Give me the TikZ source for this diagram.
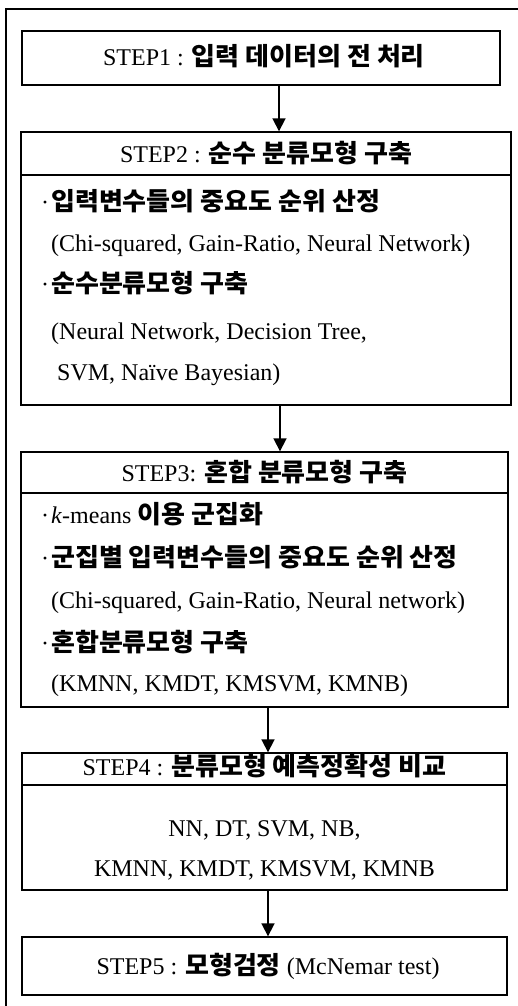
\documentclass[tikz,border=0pt]{standalone}
\usepackage{fontspec}
\setmainfont{Liberation Serif}
\newfontfamily\krfont{Noto Sans CJK KR}[FakeStretch=1.04]
\usetikzlibrary{arrows.meta}
\newcommand{\K}[1]{{\krfont\bfseries\fontsize{25}{30}\selectfont #1}}
\newcommand{\bul}{\makebox[10pt][l]{·}}
\tikzset{
  box/.style={draw=black, line width=1.4pt, inner sep=0pt, fill=white},
  hdr/.style={inner sep=0pt, anchor=base, font=\fontsize{24}{28}\selectfont},
  txt/.style={inner sep=0pt, anchor=base west, font=\fontsize{24}{28}\selectfont},
  sep/.style={draw=black, line width=1.2pt},
  arr/.style={draw=black, line width=1.8pt, -{Triangle[width=13pt,length=13pt]}},
  frame/.style={draw=black, line width=1.8pt}
}
\begin{document}
\begin{tikzpicture}[x=1pt,y=-1pt]
\useasboundingbox (0,0) rectangle (518,1006);
% outer frame
\coordinate (fTR) at (518,9);
\coordinate (fTL) at (6,9);
\coordinate (fBL) at (6,1006);
\draw[frame] (fTR) -- (fTL) -- (fBL);

% STEP1
\node[box, minimum width=478pt, minimum height=54pt] (s1) at (261,58) {};
\node[hdr] (h1) at (264,66) {STEP1 : \K{입력 데이터의 전 처리}};

% STEP2
\node[box, minimum width=490pt, minimum height=273pt] (s2) at (266,268.5) {};
\coordinate (l2) at (0,175);
\draw[sep] (s2.west |- l2) -- (s2.east |- l2);
\node[hdr] (h2) at (266,162) {STEP2 : \K{순수 분류모형 구축}};
\node[txt] (t21) at (41,210) {\bul\K{입력변수들의 중요도 순위 산정}};
\node[txt] (t22) at (51,251) {(Chi-squared, Gain-Ratio, Neural Network)};
\node[txt] (t23) at (41,292) {\bul\K{순수분류모형 구축}};
\node[txt] (t24) at (51,339) {(Neural Network, Decision Tree,};
\node[txt] (t25) at (51,380) {\ SVM, Naïve Bayesian)};

% STEP3
\node[box, minimum width=487pt, minimum height=255pt] (s3) at (264.5,579.5) {};
\coordinate (l3) at (0,493);
\draw[sep] (s3.west |- l3) -- (s3.east |- l3);
\node[hdr] (h3) at (264.5,481) {STEP3: \K{혼합 분류모형 구축}};
\node[txt] (t31) at (41,523) {\bul\textit{k}-means \K{이용 군집화}};
\node[txt] (t32) at (41,566) {\bul\K{군집별 입력변수들의 중요도 순위 산정}};
\node[txt] (t33) at (51,608) {(Chi-squared, Gain-Ratio, Neural network)};
\node[txt] (t34) at (41,651) {\bul\K{혼합분류모형 구축}};
\node[txt] (t35) at (51,691) {(KMNN, KMDT, KMSVM, KMNB)};

% STEP4
\node[box, minimum width=485pt, minimum height=137pt] (s4) at (264.5,821.5) {};
\coordinate (l4) at (0,785);
\draw[sep] (s4.west |- l4) -- (s4.east |- l4);
\node[hdr] (h4) at (264.5,775) {STEP4 : \K{분류모형 예측정확성 비교}};
\node[hdr] (t41) at (264.5,836) {NN, DT, SVM, NB,};
\node[hdr] (t42) at (264.5,876) {KMNN, KMDT, KMSVM, KMNB};

% STEP5
\node[box, minimum width=485pt, minimum height=58pt] (s5) at (264.5,966) {};
\node[hdr] (h5) at (268,974) {STEP5 : \K{모형검정} (McNemar test)};

% arrows
\coordinate (a1) at (279,0);
\coordinate (a2) at (280,0);
\coordinate (a3) at (268,0);
\draw[arr] (s1.south -| a1) -- (s2.north -| a1);
\draw[arr] (s2.south -| a2) -- (s3.north -| a2);
\draw[arr] (s3.south -| a3) -- (s4.north -| a3);
\draw[arr] (s4.south -| a3) -- (s5.north -| a3);
\end{tikzpicture}
\end{document}
